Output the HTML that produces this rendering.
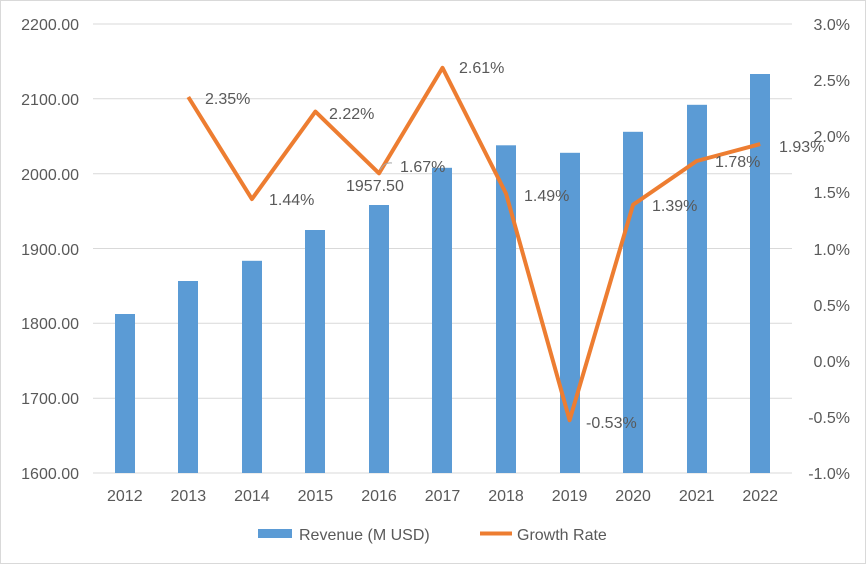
<!DOCTYPE html>
<html><head><meta charset="utf-8"><style>
body{margin:0;background:#fff}
svg{display:block;font-family:"Liberation Sans",sans-serif}
</style></head><body>
<svg width="866" height="564" viewBox="0 0 866 564" xmlns="http://www.w3.org/2000/svg">
<rect x="0.5" y="0.5" width="865" height="563" fill="#fff" stroke="#d9d9d9"/>
<g stroke="#d9d9d9" stroke-width="1">
<line x1="93" x2="792" y1="24" y2="24"/><line x1="93" x2="792" y1="98.8" y2="98.8"/>
<line x1="93" x2="792" y1="173.7" y2="173.7"/><line x1="93" x2="792" y1="248.5" y2="248.5"/>
<line x1="93" x2="792" y1="323.3" y2="323.3"/><line x1="93" x2="792" y1="398.2" y2="398.2"/>
<line x1="93" x2="792" y1="473" y2="473"/>
</g>
<g fill="#595959" font-size="16" text-anchor="end">
<text x="79" y="30">2200.00</text><text x="79" y="105">2100.00</text><text x="79" y="180">2000.00</text>
<text x="79" y="255">1900.00</text><text x="79" y="329">1800.00</text><text x="79" y="404">1700.00</text><text x="79" y="479">1600.00</text>
</g>
<g fill="#595959" font-size="16" text-anchor="end">
<text x="850" y="30">3.0%</text><text x="850" y="86">2.5%</text><text x="850" y="142">2.0%</text>
<text x="850" y="198">1.5%</text><text x="850" y="255">1.0%</text><text x="850" y="311">0.5%</text>
<text x="850" y="367">0.0%</text><text x="850" y="423">-0.5%</text><text x="850" y="479">-1.0%</text>
</g>
<g fill="#5b9bd5">
<rect x="115" y="314" width="20" height="159"/><rect x="178" y="281" width="20" height="192"/>
<rect x="242" y="260.8" width="20" height="212.2"/><rect x="305" y="230" width="20" height="243"/>
<rect x="369" y="205" width="20" height="268"/><rect x="432" y="167.8" width="20" height="305.2"/>
<rect x="496" y="145.3" width="20" height="327.7"/><rect x="560" y="152.8" width="20" height="320.2"/>
<rect x="623" y="131.8" width="20" height="341.2"/><rect x="687" y="104.8" width="20" height="368.2"/>
<rect x="750" y="74" width="20" height="399"/>
</g>
<polyline fill="none" stroke="#ed7d31" stroke-width="4" stroke-linejoin="round" points="188.3,97 251.9,199.1 315.4,111.6 379,173.3 442.5,67.8 506,193.5 569.6,420.2 633.1,204.7 696.7,161 760.2,144.1"/>
<path d="M380,170 q4,-8 12,-7" fill="none" stroke="#a6a6a6" stroke-width="1"/>
<g fill="#595959" font-size="16">
<text x="205" y="104">2.35%</text><text x="269" y="205">1.44%</text><text x="329" y="119">2.22%</text>
<text x="400" y="172">1.67%</text><text x="346" y="191">1957.50</text><text x="459" y="73">2.61%</text>
<text x="524" y="201">1.49%</text><text x="586" y="428">-0.53%</text><text x="652" y="211">1.39%</text>
<text x="715" y="167">1.78%</text><text x="779" y="152">1.93%</text>
</g>
<g fill="#595959" font-size="16" text-anchor="middle">
<text x="124.8" y="501">2012</text><text x="188.3" y="501">2013</text><text x="251.9" y="501">2014</text>
<text x="315.4" y="501">2015</text><text x="379" y="501">2016</text><text x="442.5" y="501">2017</text>
<text x="506" y="501">2018</text><text x="569.6" y="501">2019</text><text x="633.1" y="501">2020</text>
<text x="696.7" y="501">2021</text><text x="760.2" y="501">2022</text>
</g>
<rect x="258" y="529" width="34" height="9" fill="#5b9bd5"/>
<text x="299" y="540" fill="#595959" font-size="16">Revenue (M USD)</text>
<line x1="480" x2="512" y1="533.5" y2="533.5" stroke="#ed7d31" stroke-width="4"/>
<text x="517" y="540" fill="#595959" font-size="16">Growth Rate</text>
</svg>
</body></html>
